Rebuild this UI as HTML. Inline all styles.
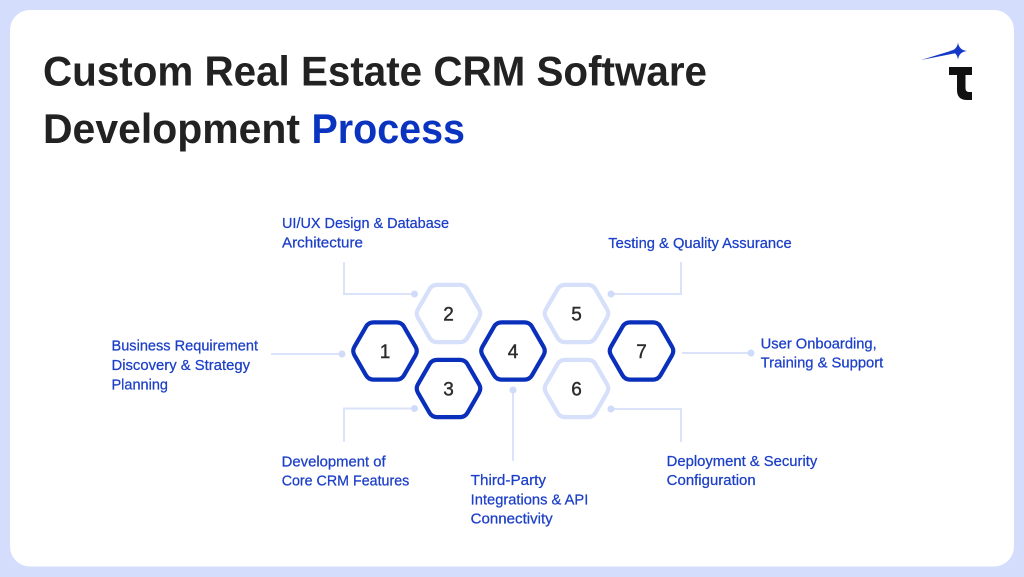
<!DOCTYPE html>
<html>
<head>
<meta charset="utf-8">
<style>
  html, body { margin: 0; padding: 0; }
  body { width: 1024px; height: 577px; background: #d4defc; overflow: hidden; }
  svg { display: block; }
  .lbl { font-family: "Liberation Sans", Arial, sans-serif; font-size: 14.5px; fill: #1c3fc8; stroke: #1c3fc8; stroke-width: 0.25; }
  .num { font-family: "Liberation Sans", Arial, sans-serif; font-size: 19px; fill: #2b2b2b; text-anchor: middle; stroke: #2b2b2b; stroke-width: 0.4; }
  .ttl { font-family: "Liberation Sans", Arial, sans-serif; font-size: 42px; font-weight: bold; fill: #222222; }
</style>
</head>
<body>
<svg width="1024" height="577" viewBox="0 0 1024 577" xmlns="http://www.w3.org/2000/svg">
  <defs>
    <path id="hex" d="M30.525,-4.29 Q33,0 30.525,4.29 L18.975,24.31 Q16.5,28.6 11.55,28.6 L-11.55,28.6 Q-16.5,28.6 -18.975,24.31 L-30.525,4.29 Q-33,0 -30.525,-4.29 L-18.975,-24.31 Q-16.5,-28.6 -11.55,-28.6 L11.55,-28.6 Q16.5,-28.6 18.975,-24.31 Z"/>
  </defs>

  <!-- card -->
  <rect x="10" y="10" width="1004" height="556.5" rx="20" ry="20" fill="#ffffff"/>

  <!-- title -->
  <text class="ttl" x="43" y="85.5" textLength="664" lengthAdjust="spacingAndGlyphs">Custom Real Estate CRM Software</text>
  <text class="ttl" x="43" y="143" textLength="257" lengthAdjust="spacingAndGlyphs">Development</text>
  <text class="ttl" x="311.5" y="143" textLength="153.5" lengthAdjust="spacingAndGlyphs" style="fill:#0a34c0">Process</text>

  <!-- logo -->
  <path d="M921,60 L955,49.6 L956.5,53 Z" fill="#1538c8"/>
  <path d="M958,42.5 Q959,50 967,51 Q959,52 958,59.5 Q957,52 949.5,51 Q957,50 958,42.5 Z" fill="#1538c8"/>
  <path d="M949,67 H972 V75 H965.5 V88 Q965.5,92 969,92 H972 V100 H967 Q957,100 957,90 V75 H949 Z" fill="#111111"/>

  <!-- connectors -->
  <g stroke="#dbe3fb" stroke-width="2" fill="none">
    <path d="M271,354 H342"/>
    <path d="M344,262 V294 H414"/>
    <path d="M344,442 V408.5 H414"/>
    <path d="M513,390 V461"/>
    <path d="M681,262 V294 H611"/>
    <path d="M681,442 V409 H611"/>
    <path d="M682,353 H751"/>
  </g>
  <g fill="#d0dbfa">
    <circle cx="342" cy="354" r="3.5"/>
    <circle cx="414.5" cy="294" r="3.5"/>
    <circle cx="414.5" cy="408.5" r="3.5"/>
    <circle cx="513" cy="390" r="3.5"/>
    <circle cx="611" cy="294" r="3.5"/>
    <circle cx="611" cy="409" r="3.5"/>
    <circle cx="751" cy="353" r="3.5"/>
  </g>

  <!-- hexagons -->
  <g fill="#ffffff" stroke-width="4.2">
    <use href="#hex" x="448.5" y="313.5" stroke="#d6e0fb"/>
    <use href="#hex" x="576.5" y="313.5" stroke="#d6e0fb"/>
    <use href="#hex" x="576.5" y="388.5" stroke="#d6e0fb"/>
    <use href="#hex" x="385" y="351" stroke="#0a30bb"/>
    <use href="#hex" x="448.5" y="388.5" stroke="#0a30bb"/>
    <use href="#hex" x="513" y="351" stroke="#0a30bb"/>
    <use href="#hex" x="641.5" y="351" stroke="#0a30bb"/>
  </g>

  <!-- numbers -->
  <text class="num" x="385" y="358">1</text>
  <text class="num" x="448.5" y="320.5">2</text>
  <text class="num" x="448.5" y="395.5">3</text>
  <text class="num" x="513" y="358">4</text>
  <text class="num" x="576.5" y="320.5">5</text>
  <text class="num" x="576.5" y="395.5">6</text>
  <text class="num" x="641.5" y="358">7</text>

  <!-- labels -->
  <text class="lbl" x="282" y="228" textLength="167" lengthAdjust="spacingAndGlyphs">UI/UX Design &amp; Database</text>
  <text class="lbl" x="282" y="247.5" textLength="81" lengthAdjust="spacingAndGlyphs">Architecture</text>

  <text class="lbl" x="111.5" y="350.5" textLength="146.5" lengthAdjust="spacingAndGlyphs">Business Requirement</text>
  <text class="lbl" x="111.5" y="370" textLength="138.5" lengthAdjust="spacingAndGlyphs">Discovery &amp; Strategy</text>
  <text class="lbl" x="111.5" y="389.5" textLength="56.5" lengthAdjust="spacingAndGlyphs">Planning</text>

  <text class="lbl" x="608.3" y="248" textLength="183.4" lengthAdjust="spacingAndGlyphs">Testing &amp; Quality Assurance</text>

  <text class="lbl" x="760.7" y="348.3" textLength="116" lengthAdjust="spacingAndGlyphs">User Onboarding,</text>
  <text class="lbl" x="760.7" y="367.5" textLength="122.6" lengthAdjust="spacingAndGlyphs">Training &amp; Support</text>

  <text class="lbl" x="281.7" y="466.7" textLength="104" lengthAdjust="spacingAndGlyphs">Development of</text>
  <text class="lbl" x="281.7" y="485.7" textLength="127.6" lengthAdjust="spacingAndGlyphs">Core CRM Features</text>

  <text class="lbl" x="470.7" y="485" textLength="75.3" lengthAdjust="spacingAndGlyphs">Third-Party</text>
  <text class="lbl" x="470.7" y="504.3" textLength="117.6" lengthAdjust="spacingAndGlyphs">Integrations &amp; API</text>
  <text class="lbl" x="470.7" y="523.3" textLength="82" lengthAdjust="spacingAndGlyphs">Connectivity</text>

  <text class="lbl" x="666.7" y="466" textLength="150.6" lengthAdjust="spacingAndGlyphs">Deployment &amp; Security</text>
  <text class="lbl" x="666.7" y="485" textLength="89" lengthAdjust="spacingAndGlyphs">Configuration</text>
</svg>
</body>
</html>
